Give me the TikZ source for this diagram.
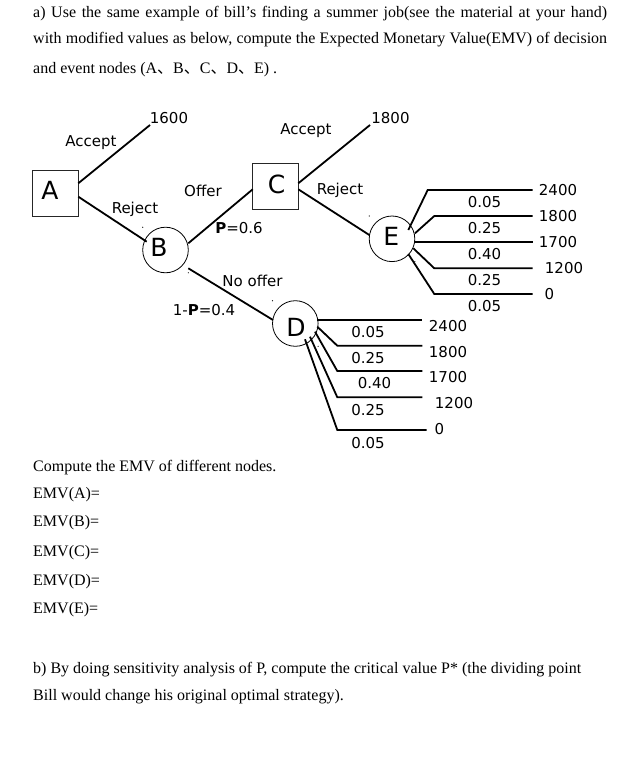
\documentclass[tikz,border=0pt]{standalone}
\usepackage{fontspec}
\setmainfont{Liberation Serif}
\newfontfamily\dejavu{DejaVu Sans}
\newfontfamily\cjk{Noto Sans CJK SC}
\usetikzlibrary{calc}
\begin{document}
\begin{tikzpicture}[x=1pt,y=-1pt,
  body/.style={anchor=base west, inner sep=0pt, font=\fontsize{16}{19}\selectfont},
  lbl/.style={inner sep=0pt, font=\dejavu\fontsize{15}{18}\selectfont, text height=10.9pt, text depth=0pt},
  letter/.style={inner sep=0pt, font=\dejavu\fontsize{25}{30}\selectfont, text height=18.2pt, text depth=0pt},
  boxst/.style={draw=black!85, line width=1pt, minimum width=45.6pt, minimum height=45.6pt, inner sep=0pt},
  circst/.style={draw=black, line width=0.8pt, circle, minimum size=45.6pt, inner sep=0pt},
  conn/.style={line width=1.8pt},
  speck/.style={fill=black}
]
\useasboundingbox (0,0) rectangle (628,762);

% ---- top text ----
\node[body] (t1) at (33,18) {\makebox[574pt][s]{a) Use the same example of bill’s finding a summer job(see the material at your hand)}};
\node[body] (t2) at (33,44) {\makebox[574pt][s]{with modified values as below, compute the Expected Monetary Value(EMV) of decision}};
\node[body] (t3) at (33,74) {and event nodes (A{\cjk 、}B{\cjk 、}C{\cjk 、}D{\cjk 、}E) .};

% ---- shapes ----
\node[boxst] (A) at (55.5,193.3) {};
\node[circst] (B) at (165.5,250) {};
\node[boxst] (C) at (275.5,186.8) {};
\node[circst] (D) at (295.3,323.5) {};
\node[circst] (E) at (392,238.8) {};

\node[letter] (Al) at (50,190.8) {A};
\node[letter] (Bl) at (159,247.5) {B};
\node[letter] (Cl) at (276.7,184.2) {C};
\node[letter] (Dl) at (296,327) {D};
\node[letter] (El) at (391.3,236) {E};

% specks at circle bounding-box corners
\fill[speck] ($(B)+(-22.8,-22.8)$) circle (0.6);
\fill[speck] ($(B)+(22.8,22.8)$) circle (0.6);
\fill[speck] ($(D)+(-22.8,-22.8)$) circle (0.6);
\fill[speck] ($(D)+(22.8,22.8)$) circle (0.6);
\fill[speck] ($(E)+(-22.8,-22.8)$) circle (0.6);
\fill[speck] ($(E)+(22.8,22.8)$) circle (0.6);

% ---- free ends ----
\coordinate (eA) at (150,125);
\coordinate (eC) at (370,125);
\coordinate (eE1) at (532.7,190);
\coordinate (eE2) at (532.7,216);
\coordinate (eE3) at (532.7,242.3);
\coordinate (eE4) at (532.7,268.3);
\coordinate (eE5) at (532.7,294);
\coordinate (eD1) at (422.3,320);
\coordinate (eD2) at (422.3,345.7);
\coordinate (eD3) at (422.3,371);
\coordinate (eD4) at (422.3,397.3);
\coordinate (eD5) at (426.7,430);

% ---- connectors ----
\draw[conn] ($(A)+(22.8,-10)$) -- (eA);
\draw[conn] ($(A)+(22.8,3.4)$) -- ($(B)+(-18.8,-8.3)$);
\draw[conn] ($(B)+(22.8,-6.7)$) -- ($(C)+(-22.8,2.5)$);
\draw[conn] ($(B)+(22.8,18.3)$) -- ($(D)+(-22.3,-3.5)$);
\draw[conn] ($(C)+(22.8,-3.5)$) -- (eC);
\draw[conn] ($(C)+(22.8,2.5)$) -- ($(E)+(-22.7,-3.8)$);

\draw[conn] ($(E)+(16.3,-8.8)$) -- ($(eE1)+(-105,0)$) -- (eE1);
\draw[conn] ($(E)+(23,-5.5)$) -- ($(eE2)+(-98.4,0)$) -- (eE2);
\draw[conn] ($(E)+(23,3.5)$) -- (eE3);
\draw[conn] ($(E)+(21.3,9.5)$) -- ($(eE4)+(-98.4,0)$) -- (eE4);
\draw[conn] ($(E)+(16.3,15.2)$) -- ($(eE5)+(-98.4,0)$) -- (eE5);

\draw[conn] ($(D)+(22,-3.5)$) -- (eD1);
\draw[conn] ($(D)+(22,3.2)$) -- ($(eD2)+(-85,0)$) -- (eD2);
\draw[conn] ($(D)+(19.7,8.2)$) -- ($(eD3)+(-85,0)$) -- (eD3);
\draw[conn] ($(D)+(14.7,13.2)$) -- ($(eD4)+(-85,0)$) -- (eD4);
\draw[conn] ($(D)+(9.7,15.8)$) -- ($(eD5)+(-89.4,0)$) -- (eD5);

% ---- labels ----
\node[lbl] (v1600) at (169,118.5) {1600};
\node[lbl] (accA) at (91,141.5) {Accept};
\node[lbl] (rejA) at (135,208.5) {Reject};
\node[lbl] (offer) at (203,191) {Offer};
\node[lbl] (p06) at (239,228.5) {\textbf{P}=0.6};
\node[lbl] (nooffer) at (252.5,281.5) {No offer};
\node[lbl] (p04) at (204,310) {1-\textbf{P}=0.4};
\node[lbl] (accC) at (306,129.3) {Accept};
\node[lbl] (v1800) at (390.5,118.5) {1800};
\node[lbl] (rejC) at (340,189.5) {Reject};

\node[lbl] (vE1) at (558,190) {2400};
\node[lbl] (vE2) at (558,216) {1800};
\node[lbl] (vE3) at (558,242) {1700};
\node[lbl] (vE4) at (564,268) {1200};
\node[lbl] (vE5) at (549.5,294) {0};
\node[lbl] (pE1) at (484.5,201.7) {0.05};
\node[lbl] (pE2) at (484.5,227.7) {0.25};
\node[lbl] (pE3) at (484.5,254) {0.40};
\node[lbl] (pE4) at (484.5,280) {0.25};
\node[lbl] (pE5) at (484.5,305.7) {0.05};

\node[lbl] (vD1) at (448,326) {2400};
\node[lbl] (vD2) at (448,352) {1800};
\node[lbl] (vD3) at (448,377.5) {1700};
\node[lbl] (vD4) at (454,403.5) {1200};
\node[lbl] (vD5) at (439.5,429.5) {0};
\node[lbl] (pD1) at (368,332.5) {0.05};
\node[lbl] (pD2) at (368,358.3) {0.25};
\node[lbl] (pD3) at (374.5,383.3) {0.40};
\node[lbl] (pD4) at (368,410) {0.25};
\node[lbl] (pD5) at (368,442.7) {0.05};

% ---- bottom text ----
\node[body] (q0) at (33,471) {Compute the EMV of different nodes.};
\node[body] (qA) at (33,498) {EMV(A)=};
\node[body] (qB) at (33,526) {EMV(B)=};
\node[body] (qC) at (33,556) {EMV(C)=};
\node[body] (qD) at (33,585) {EMV(D)=};
\node[body] (qE) at (33,613) {EMV(E)=};
\node[body] (b1) at (33,673) {b) By doing sensitivity analysis of P, compute the critical value P* (the dividing point};
\node[body] (b2) at (33,700) {Bill would change his original optimal strategy).};
\end{tikzpicture}
\end{document}
